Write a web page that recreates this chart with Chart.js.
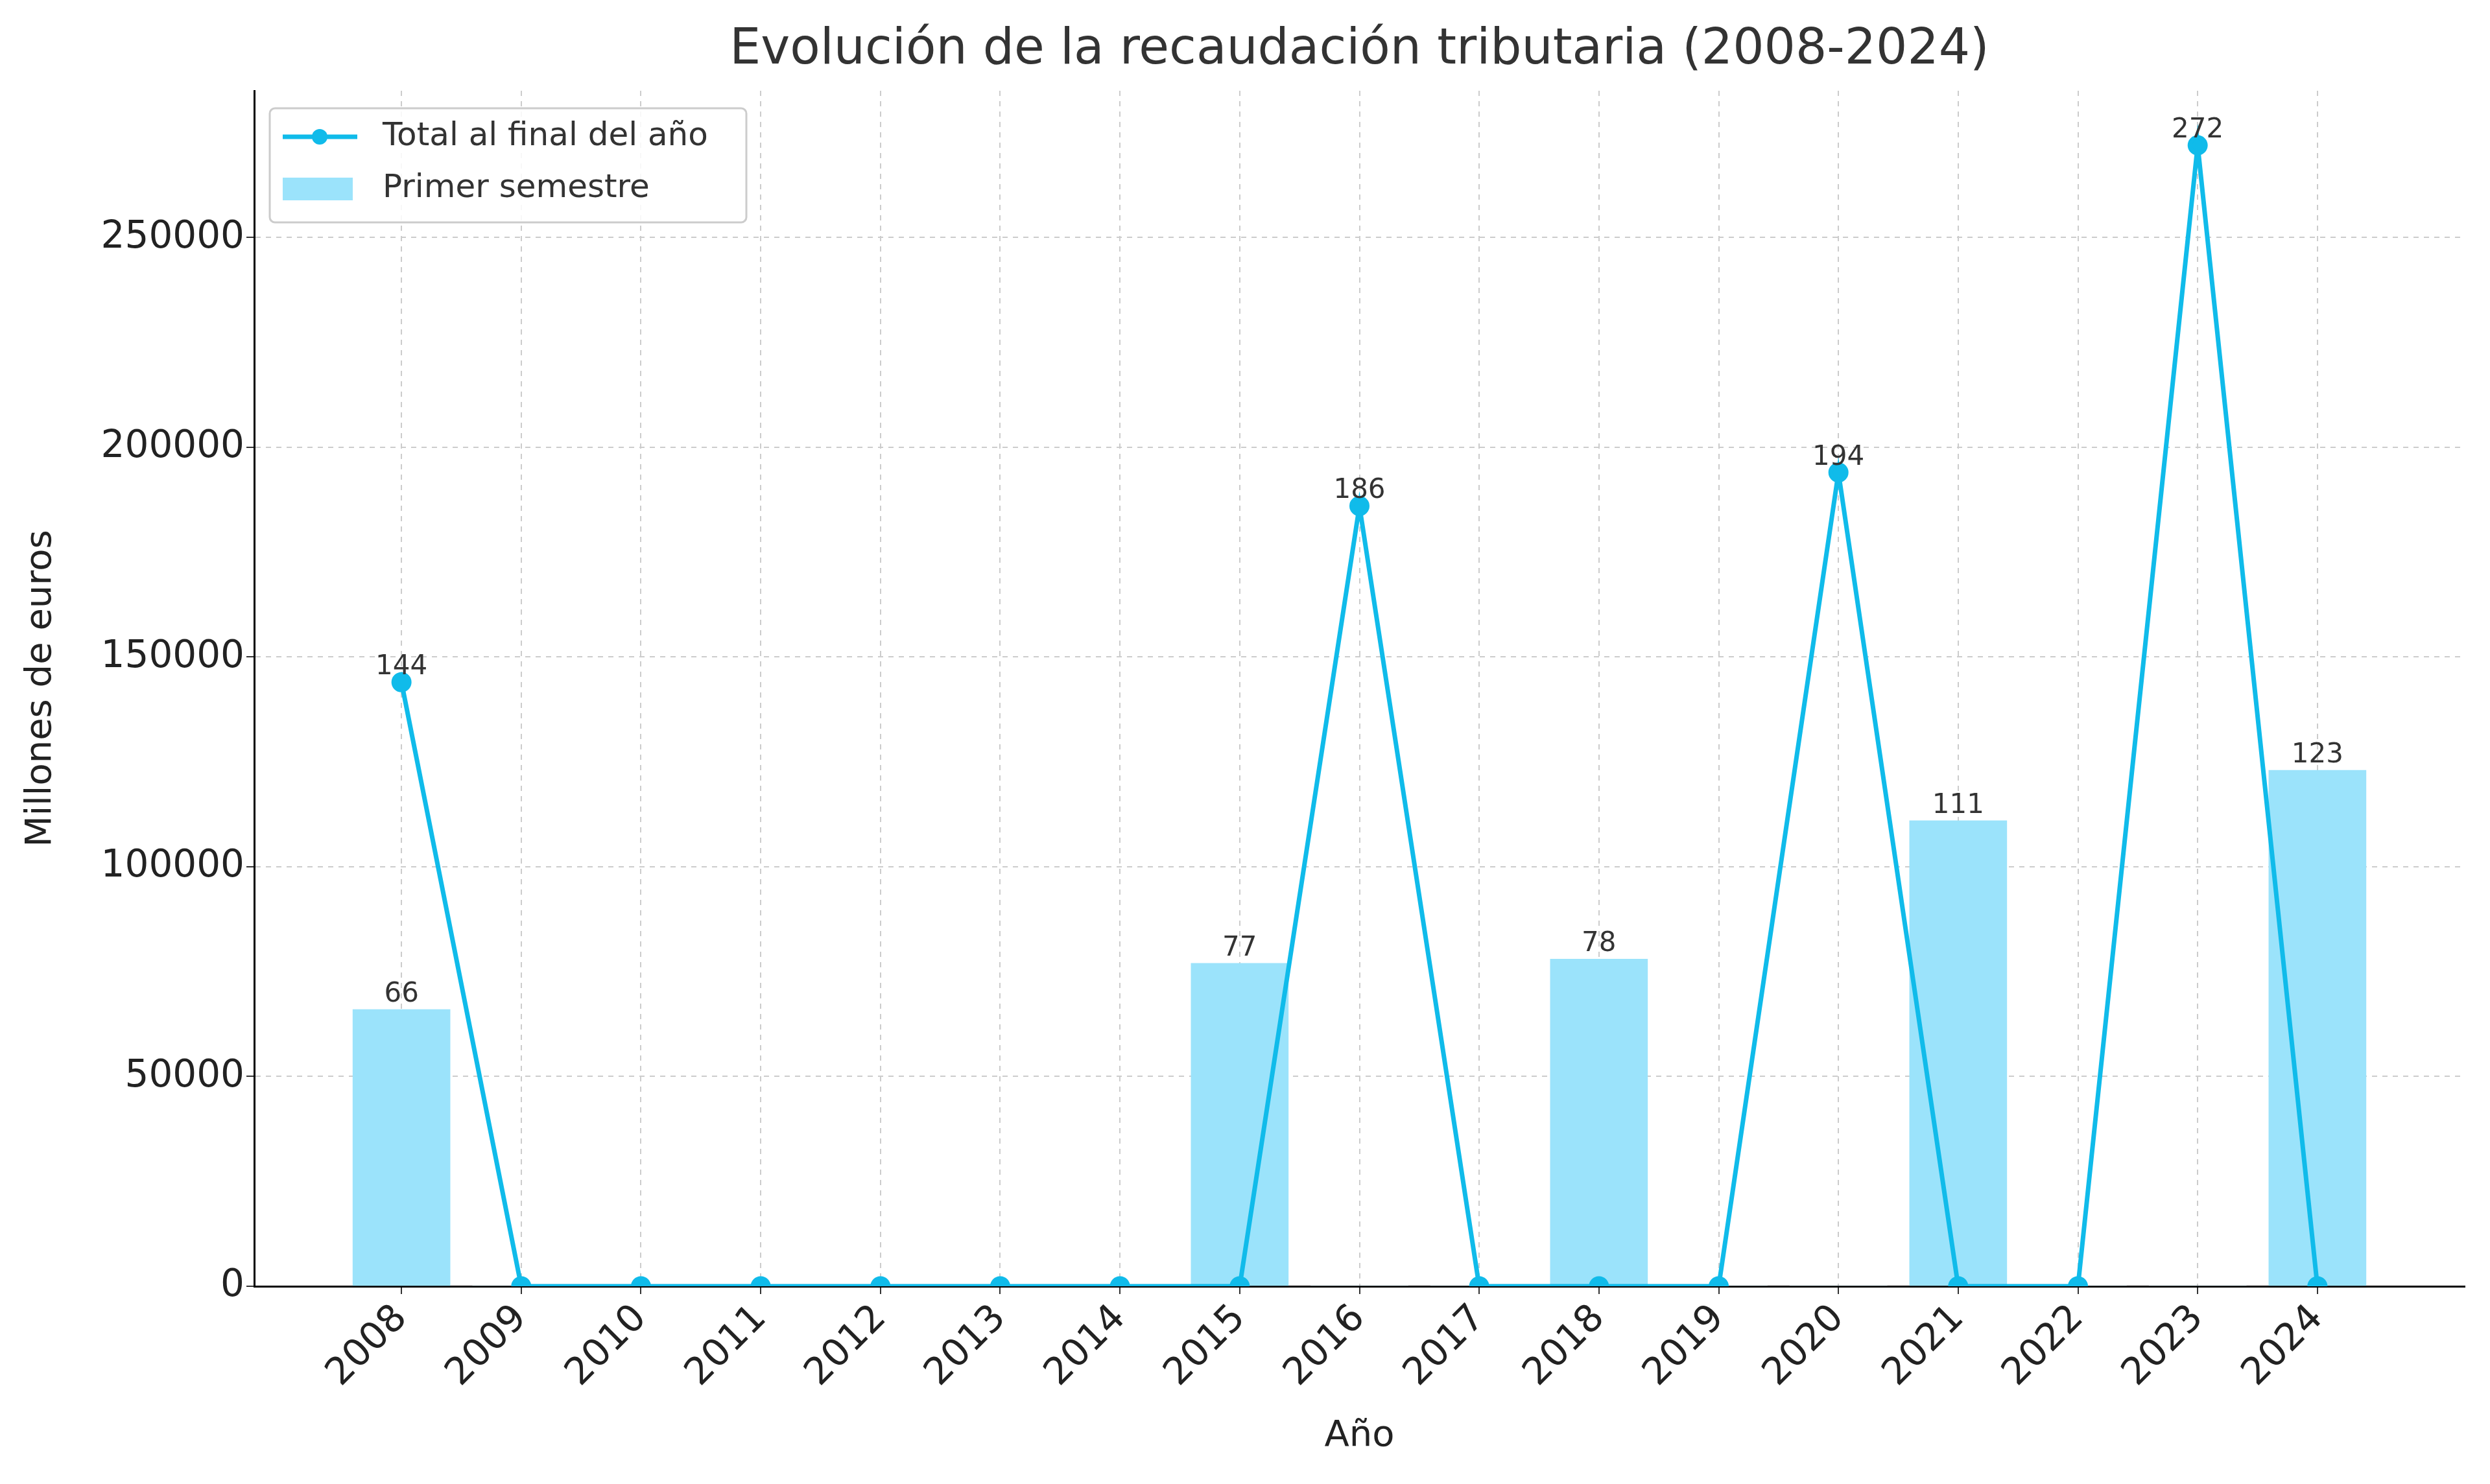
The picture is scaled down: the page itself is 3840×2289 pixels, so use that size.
<!DOCTYPE html>
<html><head><meta charset="utf-8">
<script src="https://cdn.jsdelivr.net/npm/chart.js@4"></script>
<style>html,body{margin:0;padding:0;background:#fff}#c{display:block}</style>
</head><body>
<div style="width:3840px;height:2289px"><canvas id="c"></canvas></div>
<script>
const years = [2008,2009,2010,2011,2012,2013,2014,2015,2016,2017,2018,2019,2020,2021,2022,2023,2024];
const totalFinal = [144000,0,0,0,0,0,0,0,186000,0,0,0,194000,0,0,272000,0];
const primerSemestre = [66000,0,0,0,0,0,0,77000,0,0,78000,0,0,111000,0,0,123000];
const yTicks = [0,50000,100000,150000,200000,250000];
const titleText = 'Evolución de la recaudación tributaria (2008-2024)';
const FONT = 'DejaVu Sans';
const LINE = '#10bbea', BAR = '#9be3fb';

const overlay = {
  id:'overlay',
  afterDatasetsDraw(chart){
    const ctx = chart.ctx;
    ctx.save();
    ctx.fillStyle='#333'; ctx.font='76px '+FONT; ctx.textAlign='center'; ctx.textBaseline='middle';
    ctx.fillText(titleText, (chart.chartArea.left+chart.chartArea.right)/2, 78);
    ctx.font='42px '+FONT; ctx.textBaseline='bottom'; ctx.fillStyle='#333';
    chart.data.datasets.forEach((ds,i)=>{
      const meta = chart.getDatasetMeta(i);
      meta.data.forEach((el,j)=>{
        const v = ds.data[j].y;
        if(v>0) ctx.fillText(String(Math.round(v/1000)), el.x, el.y - 2);
      });
    });
    ctx.fillStyle='rgba(255,255,255,0.85)'; ctx.strokeStyle='#ccc'; ctx.lineWidth=3;
    ctx.beginPath(); ctx.roundRect(416,167,735,176,8); ctx.fill(); ctx.stroke();
    ctx.strokeStyle=LINE; ctx.lineWidth=7; ctx.beginPath(); ctx.moveTo(436,211); ctx.lineTo(551,211); ctx.stroke();
    ctx.fillStyle=LINE; ctx.beginPath(); ctx.arc(493,211,12,0,Math.PI*2); ctx.fill();
    ctx.fillStyle=BAR; ctx.fillRect(436,274,108,35);
    ctx.fillStyle='#333'; ctx.font='50px '+FONT; ctx.textAlign='left'; ctx.textBaseline='middle';
    ctx.fillText('Total al final del año',590,211);
    ctx.fillText('Primer semestre',590,291);
    ctx.restore();
  }
};

new Chart(document.getElementById('c'),{
  data:{datasets:[
    {type:'line',label:'Total al final del año',data:years.map((x,i)=>({x,y:totalFinal[i]})),
     borderColor:LINE,backgroundColor:LINE,borderWidth:7,pointRadius:12,pointHoverRadius:12,tension:0,order:0},
    {type:'bar',label:'Primer semestre',data:years.map((x,i)=>({x,y:primerSemestre[i]})),
     backgroundColor:BAR,barThickness:150,order:1}
  ]},
  options:{
    responsive:true,maintainAspectRatio:false,animation:false,devicePixelRatio:1,
    layout:{padding:{top:140,right:39,left:0,bottom:0}},
    plugins:{legend:{display:false},tooltip:{enabled:false}},
    scales:{
      x:{type:'linear',min:2006.77,max:2025.23,offset:false,
        afterFit(s){s.height=305;},
        afterBuildTicks(s){s.ticks=years.map(v=>({value:v}));},
        ticks:{color:'#222',font:{family:FONT,size:58},maxRotation:45,minRotation:45,autoSkip:false,callback:v=>String(v),padding:4},
        grid:{offset:false,color:'#ccc',lineWidth:2,tickColor:'#333',tickLength:12,tickWidth:2},
        border:{color:'#000',width:3,dash:[8,8]},
        title:{display:true,text:'Año',color:'#222',font:{family:FONT,size:56},padding:{top:0,bottom:40}}
      },
      y:{min:0,max:285000,
        afterFit(s){s.width=392;},
        afterBuildTicks(s){s.ticks=yTicks.map(v=>({value:v}));},
        ticks:{color:'#222',font:{family:FONT,size:58},callback:v=>String(v)},
        grid:{color:'#ccc',lineWidth:2,tickColor:'#333',tickLength:12,tickWidth:2},
        border:{color:'#000',width:3,dash:[8,8]},
        title:{display:true,text:'Millones de euros',color:'#222',font:{family:FONT,size:56},padding:{top:30,bottom:0}}
      }
    }
  },
  plugins:[overlay]
});
</script>
</body></html>
